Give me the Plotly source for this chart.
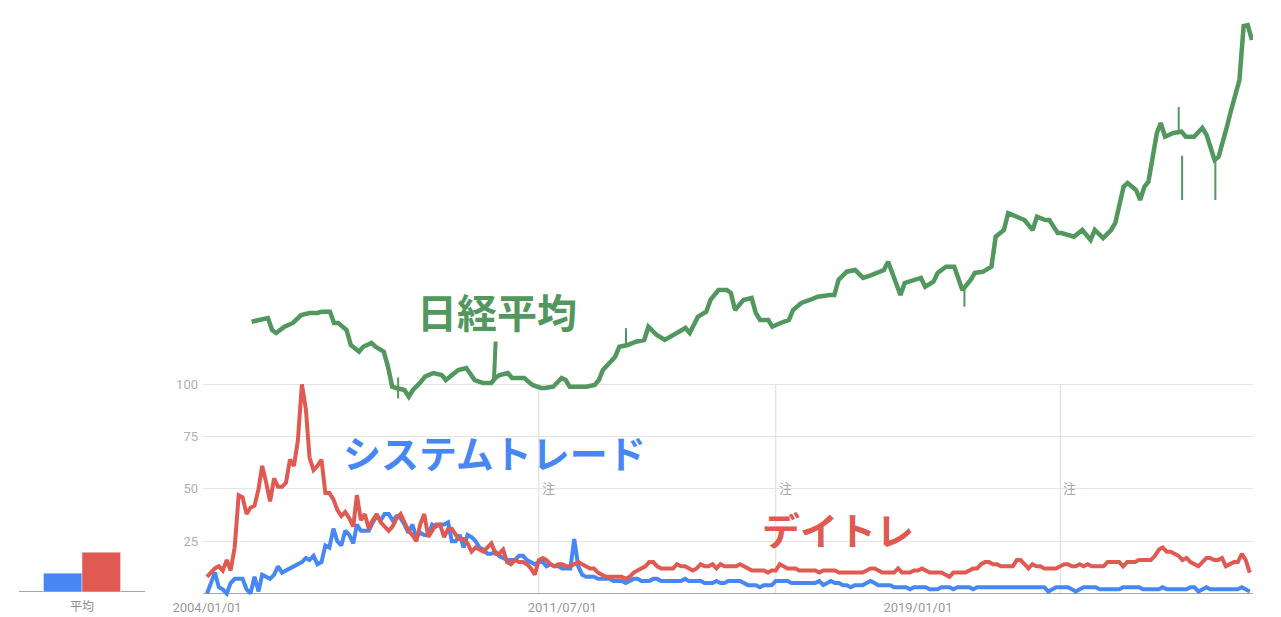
import pandas as pd
import plotly.graph_objects as go

# Google Trends monthly interest, 2004-01 .. 2026-01
system_trade = [
    0, 5, 10, 3, 2, 0, 5, 7, 7, 7,
    2, 0, 8, 1, 9, 8, 7, 9, 13, 10,
    11, 12, 13, 14, 15, 17, 16, 18, 14, 15,
    23, 22, 31, 25, 23, 30, 28, 24, 33, 30,
    30, 30, 34, 37, 35, 38, 38, 35, 37, 36,
    33, 29, 33, 27, 29, 28, 28, 33, 32, 33,
    33, 34, 25, 25, 28, 22, 28, 27, 25, 22,
    21, 19, 19, 20, 18, 17, 16, 16, 16, 18,
    18, 16, 15, 14, 15, 15, 13, 14, 13, 13,
    12, 12, 12, 26, 13, 9, 8, 8, 8, 7,
    7, 7, 7, 6, 6, 6, 5, 6, 7, 7,
    6, 6, 6, 7, 7, 6, 6, 6, 6, 6,
    6, 7, 6, 6, 6, 6, 5, 5, 5, 6,
    5, 5, 6, 6, 6, 6, 5, 4, 4, 4,
    3, 4, 4, 4, 6, 6, 6, 6, 5, 5,
    5, 5, 5, 5, 5, 6, 4, 5, 6, 5,
    5, 4, 4, 3, 4, 4, 4, 5, 6, 5,
    4, 4, 4, 4, 3, 3, 3, 3, 2, 3,
    3, 3, 3, 2, 2, 2, 3, 3, 3, 2,
    3, 3, 3, 3, 2, 3, 3, 3, 3, 3,
    3, 3, 3, 3, 3, 3, 3, 3, 3, 3,
    3, 3, 3, 1, 2, 3, 3, 3, 3, 2,
    1, 2, 3, 3, 3, 3, 2, 2, 2, 2,
    2, 2, 3, 3, 3, 3, 3, 2, 2, 2,
    2, 2, 3, 2, 2, 2, 2, 2, 2, 3,
    3, 1, 2, 3, 2, 2, 2, 2, 2, 2,
    2, 2, 3, 2, 1,
]
day_trade = [
    8, 10, 12, 13, 11, 16, 11, 22, 47, 46,
    38, 41, 42, 50, 61, 53, 44, 55, 51, 51,
    53, 64, 61, 73, 100, 88, 65, 59, 61, 64,
    48, 48, 45, 40, 37, 39, 36, 32, 47, 35,
    38, 31, 35, 38, 34, 32, 30, 32, 36, 38,
    34, 30, 28, 25, 33, 38, 27, 30, 33, 33,
    27, 31, 31, 28, 26, 26, 24, 20, 22, 21,
    20, 22, 24, 19, 19, 21, 15, 14, 16, 15,
    15, 14, 12, 9, 16, 17, 16, 14, 13, 14,
    14, 13, 13, 14, 15, 14, 13, 12, 12, 10,
    9, 8, 8, 8, 8, 8, 7, 8, 10, 11,
    12, 13, 15, 15, 13, 12, 12, 12, 12, 14,
    13, 13, 12, 11, 12, 14, 13, 13, 14, 12,
    14, 13, 13, 13, 13, 14, 13, 12, 11, 11,
    11, 11, 10, 11, 11, 14, 13, 12, 12, 12,
    11, 11, 11, 11, 11, 10, 11, 11, 11, 11,
    10, 10, 10, 10, 10, 10, 10, 11, 12, 12,
    11, 10, 10, 10, 10, 12, 10, 10, 10, 11,
    11, 12, 11, 10, 10, 10, 10, 9, 8, 10,
    10, 10, 10, 11, 12, 12, 14, 15, 15, 14,
    14, 13, 13, 13, 13, 16, 16, 14, 12, 14,
    13, 13, 12, 12, 12, 12, 13, 14, 14, 13,
    13, 14, 13, 14, 13, 13, 13, 13, 15, 15,
    15, 15, 13, 15, 15, 15, 16, 16, 16, 16,
    18, 21, 22, 20, 20, 19, 18, 16, 17, 15,
    14, 13, 15, 17, 17, 16, 16, 17, 13, 14,
    15, 15, 19, 16, 10,
]
averages = [9, 19]
tick_dates = ["2004-01-01", "2011-07-01", "2019-01-01"]
tick_labels = ["2004/01/01", "2011/07/01", "2019/01/01"]
note_dates = ["2011-01-01", "2016-01-01", "2022-01-01"]

# Nikkei 225 (pasted-in chart), yen
nikkei_dates = [
    "2005-11", "2006-01", "2006-03", "2006-04", "2006-05", "2006-07", "2006-09", "2006-11",
    "2007-01", "2007-03", "2007-04", "2007-06", "2007-07", "2007-08", "2007-10", "2007-11",
    "2008-01", "2008-02", "2008-04", "2008-05", "2008-07", "2008-08", "2008-09", "2008-10",
    "2008-12", "2009-01", "2009-02", "2009-04", "2009-05", "2009-07", "2009-09", "2009-10",
    "2009-12", "2010-01", "2010-03", "2010-04", "2010-05", "2010-07", "2010-09", "2010-10",
    "2010-11", "2011-01", "2011-02", "2011-03", "2011-05", "2011-07", "2011-09", "2011-10",
    "2011-12", "2012-02", "2012-03", "2012-04", "2012-06", "2012-08", "2012-10", "2012-11",
    "2012-12", "2013-02", "2013-03", "2013-04", "2013-06", "2013-08", "2013-10", "2013-11",
    "2014-01", "2014-03", "2014-06", "2014-08", "2014-09", "2014-11", "2015-01", "2015-02",
    "2015-04", "2015-06", "2015-07", "2015-08", "2015-10", "2015-12", "2016-01", "2016-02",
    "2016-04", "2016-05", "2016-07", "2016-09", "2016-10", "2016-12", "2017-02", "2017-04",
    "2017-07", "2017-08", "2017-09", "2017-11", "2018-01", "2018-03", "2018-05", "2018-08",
    "2018-09", "2018-10", "2018-11", "2018-12", "2019-01", "2019-03", "2019-05", "2019-06",
    "2019-08", "2019-09", "2019-11", "2020-01", "2020-03", "2020-05", "2020-06", "2020-08",
    "2020-10", "2020-11", "2021-01", "2021-02", "2021-04", "2021-06", "2021-08", "2021-09",
    "2021-11", "2021-12", "2022-02", "2022-03", "2022-06", "2022-08", "2022-10", "2022-11",
    "2023-01", "2023-03", "2023-04", "2023-05", "2023-06", "2023-07", "2023-09", "2023-10",
    "2023-11", "2023-12", "2024-01", "2024-02", "2024-03", "2024-04", "2024-06", "2024-08",
    "2024-09", "2024-11", "2025-01", "2025-02", "2025-03", "2025-04", "2025-05", "2025-06",
    "2025-07", "2025-08", "2025-09", "2025-10", "2025-11", "2025-12", "2026-01",
]
nikkei = [
    16170, 16380, 16610, 15180, 14820, 15570, 16020, 16970,
    17210, 17210, 17370, 17370, 16020, 16020, 15180, 13390,
    12590, 13180, 13630, 13180, 12590, 10800, 8400, 8250,
    8010, 7210, 8010, 9000, 9600, 10040, 9800, 9200,
    10040, 10400, 10640, 9800, 9200, 8850, 8850, 9440,
    9800, 10040, 9440, 9440, 9440, 8610, 8250, 8250,
    8400, 9440, 9200, 8400, 8400, 8400, 8610, 9200,
    10400, 11390, 11990, 13180, 13390, 13780, 13990, 15570,
    14580, 13990, 14820, 15420, 14820, 16770, 17370, 18770,
    19960, 19960, 19600, 17570, 18770, 19000, 17210, 16380,
    16380, 15570, 16020, 16380, 17570, 18410, 18770, 19160,
    19360, 19360, 21160, 22150, 22350, 21400, 21750, 22350,
    23340, 22000, 20350, 19360, 20800, 21160, 21400, 20350,
    20950, 22000, 22750, 22750, 19960, 21160, 22000, 22150,
    22750, 26330, 27130, 29160, 28720, 28320, 27130, 28720,
    28320, 28320, 26770, 26770, 26330, 27130, 25930, 27130,
    26170, 27130, 27970, 29910, 32300, 32750, 31910, 30720,
    32300, 32900, 35900, 38720, 39920, 38280, 38720, 38880,
    38280, 38280, 39320, 38500, 37080, 35500, 35890, 37530,
    39480, 41470, 43500, 45050, 51500, 51600, 49840,
]
# long candle wicks visible in the pasted chart
wick_dates = ["2008-10-15", "2013-05-20", "2020-03-16", "2024-07-11", "2024-08-05", "2025-04-07"]
wick_low = [7000, 13200, 17960, 38900, 30720, 30720]
wick_high = [9500, 15400, 20500, 41830, 36000, 35500]

BLUE = "#4787f3"
RED = "#e05a51"
GREEN = "#52985e"
W, H = 1281, 617

months = pd.date_range("2004-01-01", periods=len(day_trade), freq="MS")

wx, wy = [], []
for d, lo, hi in zip(wick_dates, wick_low, wick_high):
    wx += [d, d, None]
    wy += [lo, hi, None]

fig = go.Figure()
fig.add_trace(go.Scatter(x=months, y=system_trade, mode="lines",
                         line=dict(color=BLUE, width=4), xaxis="x", yaxis="y"))
fig.add_trace(go.Scatter(x=months, y=day_trade, mode="lines",
                         line=dict(color=RED, width=4), xaxis="x", yaxis="y"))
fig.add_trace(go.Scatter(x=pd.to_datetime(nikkei_dates), y=nikkei, mode="lines",
                         line=dict(color=GREEN, width=4.5), xaxis="x2", yaxis="y2"))
fig.add_trace(go.Scatter(x=wx, y=wy, mode="lines", line=dict(color=GREEN, width=2),
                         xaxis="x2", yaxis="y2"))
fig.add_trace(go.Bar(x=["平均"], y=[averages[0]], marker_color=BLUE,
                     xaxis="x3", yaxis="y3"))
fig.add_trace(go.Bar(x=["平均"], y=[averages[1]], marker_color=RED,
                     xaxis="x3", yaxis="y3"))

for d in note_dates:
    fig.add_shape(type="line", xref="x", yref="y", x0=d, x1=d, y0=0, y1=100,
                  line=dict(color="#dadada", width=1), layer="below")
    fig.add_annotation(x=d, y=50, xref="x", yref="y", text="注", showarrow=False,
                       xanchor="left", yanchor="middle", xshift=1,
                       font=dict(size=13, color="#a8a8a8"))

label_font = "Noto Sans CJK JP"
fig.add_annotation(x=494 / W, y=(598 - 451) / 580, xref="paper", yref="paper",
                   xanchor="center", yanchor="middle",
                   text="<b>システムトレード</b>", showarrow=False,
                   font=dict(family=label_font, size=38, color=BLUE))
fig.add_annotation(x=838 / W, y=(598 - 528) / 580, xref="paper", yref="paper",
                   xanchor="center", yanchor="middle",
                   text="<b>デイトレ</b>", showarrow=False,
                   font=dict(family=label_font, size=38, color=RED))
fig.add_annotation(x=494 / W, y=(598 - 379) / 580, xref="paper", yref="paper",
                   text="<b>日経平均</b>", showarrow=True, arrowhead=0,
                   arrowwidth=4, arrowcolor=GREEN, ax=3, ay=-68,
                   font=dict(family=label_font, size=40, color=GREEN))

fig.update_layout(
    width=W, height=H,
    margin=dict(l=0, r=0, t=18, b=19, autoexpand=False),
    paper_bgcolor="white", plot_bgcolor="white",
    showlegend=False,
    font=dict(family="Roboto, Noto Sans CJK JP, sans-serif"),
    barmode="group", bargap=0.389, bargroupgap=0,
    xaxis=dict(domain=[203 / W, 1253 / W], type="date",
               range=["2003-12-01", "2026-01-26"],
               tickvals=tick_dates, ticktext=tick_labels,
               showgrid=False, zeroline=False, showline=False, ticks="",
               tickfont=dict(size=13, color="#999999"), anchor="y", automargin=False),
    yaxis=dict(domain=[0, 1], range=[-2.15, 275.1], tickvals=[25, 50, 75, 100],
               showgrid=True, gridcolor="#e5e5e5", gridwidth=1,
               zeroline=True, zerolinecolor="#a6a6a6", zerolinewidth=1,
               showline=False, ticks="", ticklabelstandoff=4,
               tickfont=dict(size=13, color="#b0b0b0"), anchor="x", automargin=False),
    xaxis2=dict(overlaying="x", type="date", range=["2004-11-08", "2026-01-09"],
                visible=False, anchor="y2"),
    yaxis2=dict(overlaying="y", range=[-16846, 52464], visible=False, anchor="x2"),
    xaxis3=dict(domain=[19 / W, 145 / W], type="category", anchor="y3",
                showgrid=False, zeroline=False, showline=False, ticks="",
                tickfont=dict(size=12, color="#8a8a8a"), automargin=False),
    yaxis3=dict(domain=[0, 1], range=[-2.87, 274.2], anchor="x3",
                showgrid=False, showticklabels=False, automargin=False,
                zeroline=True, zerolinecolor="#a6a6a6", zerolinewidth=1),
)

fig.write_html("out.html", config={"displayModeBar": False},
               post_script="document.body.style.margin='0px';")
